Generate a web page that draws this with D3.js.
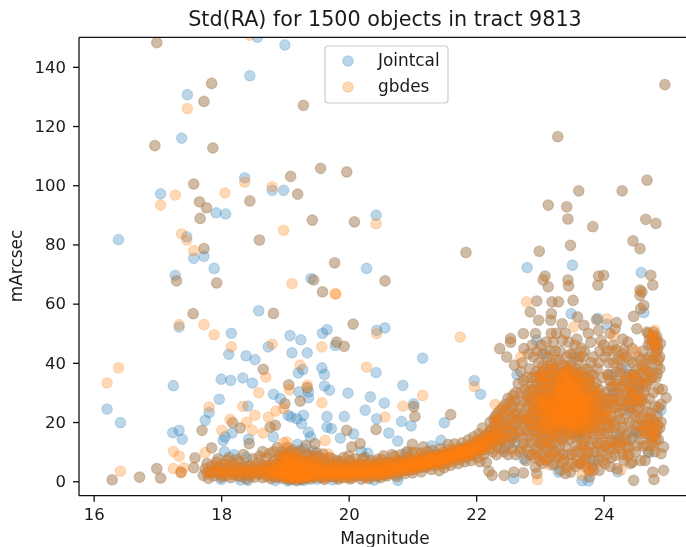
<!DOCTYPE html>
<html><head><meta charset="utf-8">
<script src="https://cdnjs.cloudflare.com/ajax/libs/d3/7.8.5/d3.min.js"></script>
<style>html,body{margin:0;padding:0;background:#fff;overflow:hidden}svg{display:block;filter:blur(0.5px)}text{font-family:"DejaVu Sans";fill:#1a1a1a}</style>
</head><body><svg id="c" width="686" height="547"></svg>
<script>
const chartTitle="Std(RA) for 1500 objects in tract 9813";
const xLabel="Magnitude", yLabel="mArcsec";
const seriesNames=["Jointcal","gbdes"];
const xTicks=[16,18,20,22,24], yTicks=[0,20,40,60,80,100,120,140];

const jointcalOnly=[[17.47,130.6],[18.45,137],[19,147.4],[18.57,150],[17.38,115.9],[17.05,97.1],[17.92,90.7],[18.07,90.3],[18.37,102.5],[18.8,98.3],[18.98,98.3],[20.43,89.9],[16.39,81.6],[17.46,82.6],[17.57,75.3],[17.73,76],[17.89,71.9],[17.28,69.6],[20.28,71.9],[19.41,68.5],[17.34,52.1],[18.16,50],[18.59,57.6],[19.08,49.2],[19.25,47.8],[19.59,50],[19.66,51.2],[18.74,45.4],[18.12,42.9],[18.39,42.4],[18.53,41.1],[19.11,43.4],[19.35,43.4],[19.79,45.9],[20.44,51],[17.25,32.3],[16.21,24.4],[16.42,19.8],[18,34.5],[18.15,34.1],[18.34,34.9],[18.49,33.2],[18.82,29.4],[18.93,27.9],[19.28,37.7],[19.21,36.6],[19.58,38.3],[19.62,36.1],[19.62,32.2],[19.7,30.8],[19.22,30.2],[19.37,30.2],[19.37,28.2],[19.99,29.8],[20.43,36.7],[20.34,28.5],[20.26,24],[19.66,21.9],[19.93,21.9],[20.44,21.1],[17.81,23.2],[17.75,20.6],[17.97,27.7],[18.42,25.4],[17.24,16.4],[17.34,17.2],[17.39,14.2],[18.17,16.3],[18.06,15],[18.03,13.8],[18.43,14.2],[18.82,15],[19.05,22.3],[19.1,21.7],[19.19,21.1],[19.29,22.3],[19.26,19.5],[19.37,16.6],[19.4,15],[19.66,18.3],[19.73,17.8],[19.87,14.6],[20.08,16],[19.2,12.5],[20.57,51.8],[21.16,41.6],[20.85,32.4],[20.56,26.4],[21.02,26.2],[20.83,20.2],[20.98,18.7],[21.5,19.8],[21.97,34],[22.07,29.4],[20.63,16.3],[20.77,13.6],[21.45,13.8],[22.8,72.2],[23.51,73],[24.59,70.5],[23.49,56.6],[23.91,55],[24.05,53],[22.95,47.6],[24.63,57],[20.77,0.3],[22.59,0.9],[23.29,3.1],[23.76,0.1],[23.66,0.2],[24.52,16.6],[24.71,9.6],[24.22,3.2],
[18,0.6],[18.3,0.4],[18.42,0.3],[18.85,0.3],[19.05,0.1],[19.2,0.2],[19.3,0.3],[19.5,0.7],[19.75,0.5],[20.4,0.4],[18.2,9],[18.05,10],[18.4,8],[19.3,11],[19.45,10],[20.2,10],[20.3,9.5],[22.6,13],[22.75,7.5],[23.6,16],[24,25],[24.15,30],[24.35,38],[24.55,32],[24.45,15],[24.9,24],[22.64,36],[23.08,43],[23.55,42],[24.13,36],[24.4,24],[24.24,15],[23.85,7],[23.2,5.5],[22.45,11],[21.3,12],[20.9,9.6]];

const gbdesOnly=[[17.47,125.9],[18.45,150.7],[17.05,93.3],[17.28,96.7],[18.06,97.4],[18.37,101.1],[18.8,99.5],[20.43,87],[18.98,84.8],[17.38,83.6],[17.46,81.5],[17.57,77.9],[19.11,66.8],[19.79,63.4],[19.8,63.2],[17.34,52.9],[17.73,52.9],[17.89,49.5],[18.8,46.3],[18.16,45.4],[19.58,45.4],[20.44,49.9],[16.39,38.3],[16.21,33.2],[18.7,35.2],[18.59,29.9],[19.24,39.2],[19.35,32.4],[19.07,30.9],[19.58,26.5],[20.28,38.6],[17.81,25.1],[18.34,25.3],[17.25,10.1],[17.34,8.5],[17.75,9.7],[18.01,17.2],[18.14,20.9],[18.4,20],[18.53,22.3],[18.49,17.2],[18.66,16.3],[18.74,21.7],[18.86,23.7],[18.98,24.5],[19.03,13.3],[18.98,13],[19.63,13.8],[19.68,9.3],[16.42,3.4],[17.25,4.3],[17.37,2.8],[17.41,4.6],[21.75,48.7],[21.16,29],[20.85,25.4],[20.57,21.7],[21.97,32],[22.79,60.6],[23.53,52.1],[24.05,54.9],[23.16,5.4],[22.96,0.5],[24.27,3.8],[24.08,23],[24.8,51],[22.3,26],[22.7,42],[24.16,49],[24.5,44],[23.66,2],[23.75,4]];

const brightSparse=[[16.99,148.2],[17.85,134.4],[16.96,113.4],[17.57,100.4],[18.45,94.7],[19.09,103],[19.56,105.7],[19.97,104.5],[19.29,127],[17.87,112.6],[17.73,128.3],[17.66,94.4],[17.77,92.4],[17.67,88.8],[19.2,97],[19.43,88.2],[20.09,87.6],[18.6,81.5],[17.73,78.6],[17.3,67.7],[17.93,67],[19.78,73.8],[19.45,68],[19.59,64],[17.56,56.6],[18.82,56.7],[20.07,53.1],[19.81,47],[19.93,45.6],[18.66,37.8],[19.35,31.6],[19.06,32.6],[19.24,27.1],[17.7,17.2],[17.59,7.9],[17.85,11.3],[18.18,19.8],[18.3,18],[18.44,12.7],[19,26.2],[18.77,18.3],[18.85,18.9],[19.97,17.2],[20.43,17.5],[19.47,12.7],[19.33,12.1],[20.18,12.7],[20.05,11.6],[16.29,0.5],[16.72,1.4],[16.99,4.3],[17.05,1.1],[17.37,3.1],[17.57,4.6],[20.57,67.7],[21.04,21.9],[21.6,22.5],[21.17,11.6],[21,12.5],[21.02,25.2]];

const faintSparse=[[24.96,134],[23.28,116.4],[24.68,101.7],[24.29,98.1],[23.61,98.1],[23.13,93.3],[23.42,92.7],[23.44,88.6],[23.83,86],[24.66,88.5],[24.82,87.1],[24.46,81.2],[24.57,78.6],[23.48,79.7],[22.99,77.7],[21.84,77.3],[23.08,69.3],[23.05,68],[23.44,68],[23.92,69.3],[24,69.6],[24.74,69.6],[24.77,66.3],[24.57,64.6],[23.13,65.7],[23.45,66],[23.91,66.3],[22.95,60.9],[22.85,57.2],[23.19,60.6],[23.29,60.6],[23.52,61.1],[23.18,56.6],[22.98,54.4],[23.17,54.4],[23.35,53.2],[23.59,55.5],[23.69,52.7],[23.89,54.6],[23.92,51],[24.2,53.6],[24.18,51.5],[24.47,55.7],[24.63,59.4],[24.58,58.3],[24.57,62.8],[24.6,64],[24.52,51.5],[24.68,50.4],[24.78,50.4],[24.84,47.6],[24.89,46.5],[24.84,44.2],[24.81,42.5],[24.76,41],[24.88,38],[24.84,36.3],[24.73,34.1],[24.65,31.9],[24.86,31.3],[24.98,28.2],[24.81,25.3],[24.68,23.4],[24.76,21.1],[24.84,17.2],[24.63,18.9],[24.94,11.6],[24.9,9.3],[24.94,3.7],[24.77,3.1],[24.79,0.6],[24.47,0.3],[24.58,7],[24.65,7],[24.37,8.8],[24.21,4.3],[24.18,8.8],[24.04,8.8],[24.03,12.1],[24.18,13.3],[24.39,11.6],[24.37,16.1],[23.93,3.7],[23.84,3.7],[23.78,1.5],[23.71,9.3],[23.62,10],[23.42,4.8],[23.48,3.1],[23.19,9.3],[22.93,4.8],[22.95,2.6],[22.74,2.8],[22.59,3.1],[22.44,2],[22.2,3.4],[22.25,2],[22.37,44.8],[22.54,48.2],[22.54,47],[22.74,49.9],[22.75,44.8],[22.48,42],[22.6,39.2],[22.93,49.9],[23.21,47],[23.35,47.6],[23.45,47],[23.55,46],[23.65,45],[23.8,47],[23.96,47.5],[24.15,46],[24.2,44.5],[24.05,44],[24.32,44.5],[24.45,44.8],[24.55,42],[24.4,41],[24.62,39],[24.7,37],[24.35,35],[24.45,36],[24.55,28],[24.25,37]];

const bandBright=[[17.72,2],[17.75,4.2],[17.78,6],[17.8,1],[17.82,3],[17.85,5.2],[17.88,1.8],[17.9,3.8],[17.93,6.5],[17.95,2.6],[17.98,4.6],[18,1.4],[18.03,5.8],[18.05,3.2],[18.08,2],[18.1,7],[18.12,4.4],[18.15,1.2],[18.18,3.4],[18.2,5.6],[18.22,2.4],[18.25,4],[18.28,6.6],[18.3,1.6],[18.33,3],[18.35,4.8],[18.38,2.2],[18.4,0.8],[18.42,3.8],[18.45,5.4],[18.48,2.6],[18.5,4.2],[18.53,1.4],[18.55,3.2],[18.58,6.2],[18.6,2.4],[18.62,4.6],[18.65,1.2],[18.68,3.4],[18.7,7.8],[18.72,5.2],
[18.74,2],[18.76,3.6],[18.78,0.9],[18.8,5],[18.82,2.6],[18.84,7],[18.86,4],[18.88,1.4],[18.9,3],[18.9,6],[18.92,8.6],[18.94,2],[18.94,4.6],[18.96,1],[18.96,3.4],[18.98,6.8],[19,2.4],[19,5.2],[19,9.2],[19.02,1.2],[19.02,3.8],[19.04,7.6],[19.06,2.8],[19.06,5.6],[19.08,0.8],[19.08,4.2],[19.08,10],[19.1,1.8],[19.1,3],[19.1,6.6],[19.12,8.6],[19.14,1],[19.14,4.6],[19.16,2.2],[19.16,6],[19.18,3.4],[19.18,9.6],[19.2,1.2],[19.2,5],[19.2,7.4],[19.22,2.6],[19.24,0.8],[19.24,4],[19.26,6.4],[19.26,8.8],[19.28,1.8],[19.28,3.2],[19.3,5.4],[19.32,2.4],[19.32,7],[19.34,1],[19.34,4.4],[19.36,3],[19.36,6],[19.38,1.6],[19.4,5],[19.4,8.4],[19.42,2.6],[19.44,4],[19.46,1.4],[19.46,6.4],[19.48,3],[19.5,5],[19.5,9.6],[19.52,2],[19.54,4],[19.54,7],[19.56,1.2],[19.58,3],[19.58,5.6],[19.6,2.2],[19.62,4.2],[19.62,7.6],[19.64,1.4],[19.66,3.2],[19.68,5.4],[19.7,2],[19.7,8],
[19.72,4],[19.74,1.6],[19.76,3],[19.78,5.6],[19.8,2.2],[19.82,4.2],[19.84,1.4],[19.86,3.2],[19.86,6.6],[19.88,2.4],[19.9,4.6],[19.92,1.2],[19.94,3.4],[19.96,5.4],[19.98,2],[20,4],[20.02,7],[20.04,2.6],[20.06,1.2],[20.08,4.6],[20.1,3],[20.12,5.8],[20.14,1.8],[20.16,3.8],[20.18,2.4],[20.2,5],[20.22,7.6],[20.24,3.2],[20.26,1.4],[20.28,4.4],[20.3,2.6],[20.32,5.8],[20.34,3.6],[20.36,1.8],[20.38,4.6],[20.4,2.8],[20.42,6.4],[20.44,3.6],[20.46,1.6],[20.48,5],[20.5,3],[20.52,7.4],[20.54,4.2],[20.56,2.2],[20.58,5.4],[20.6,3.4],[20.62,6.4],[20.64,4.4],[20.66,2.6],[20.68,5.6],[20.7,3.8],[20.72,8.4],[20.74,5],[20.76,1.6],[20.78,3.8],[20.8,6.2],[20.82,4.4],[20.84,7.4],[20.86,5.2],[20.88,3.6],[20.9,6.4],[20.92,4.6],[20.94,8],[20.96,5.6],[20.98,3.8],[21,7],[21,9.8],[21.02,5],[21.04,6.4],[21.06,4.4],[21.08,7.8],[21.1,5.8],[21.12,4.6],[21.14,7],[21.16,5.6],[21.18,8.4],[21.2,6.4],[21.22,4.8],[21.24,7.4],[21.26,5.8],[21.28,8.6],[21.3,6.8],[21.32,5.4],[21.34,8],[21.36,6.4],[21.38,9],[21.4,7.2],[21.42,5.6],[21.44,8.4],[21.46,7],[21.48,9.8],[21.5,7.8],[21.52,6],[21.54,8.8],[21.56,10.6],[21.58,7.6],[21.6,9.4],[21.62,8],[21.64,6.6],[21.66,10],[21.68,8.6],[21.7,11],[21.72,9.4],[21.74,7.4],[21.76,10.2],[21.78,8.8],[21.8,11.4],[21.82,9.6],[21.84,8],[21.86,10.8],[21.88,9.2],[21.9,12.2],[21.92,10.4],[21.94,8.6],[21.96,11.4],[21.98,13],[22,10.4],[22.02,8],[22.04,12],[22.06,14],[22.08,10.6],[22.1,12.8],[22.12,9],[22.14,15],[22.16,11.6],[22.18,13.8],[22.2,16.6],[22.22,11],[22.24,14.6],[22.26,12.6],[22.28,17.4],[22.3,15],[22.32,20.4],[22.34,12.4],[22.36,18],[22.38,15.6],[22.4,13.6],[22.42,20],[22.44,17],[22.46,23.6],[22.48,15],[22.5,19.4],[22.52,12.6],[22.54,17.2],[22.56,21.4],[22.58,25],[22.6,15.6],[22.62,19],[22.64,23],[22.66,17],[22.68,10],[22.7,21],[22.72,27],[22.74,14.6],[22.76,18.4],[22.78,24]];

const faintCluster=[[22.8,11],[22.8,17],[22.8,21],[22.8,29],[22.8,35],[22.82,15],[22.82,25],[22.84,19],[22.84,32],[22.84,38],[22.86,13],[22.86,23],[22.86,28],[22.88,9],[22.88,17],[22.88,21],[22.88,35],[22.9,26],[22.9,31],[22.9,42],[22.92,14],[22.92,19],[22.92,24],[22.94,11],[22.94,29],[22.94,37],[22.96,17],[22.96,22],[22.96,33],[22.98,26],[22.98,40],[23,13],[23,19],[23,24],[23,30],[23,36],[23.02,9],[23.02,16],[23.02,21],[23.02,27],[23.04,33],[23.04,39],[23.04,43],[23.06,18],[23.06,23],[23.06,29],[23.08,12],[23.08,25],[23.08,35],[23.1,7],[23.1,20],[23.1,31],[23.1,38],[23.12,16],[23.12,22],[23.12,27],[23.12,42],[23.14,13],[23.14,24],[23.14,33],[23.16,19],[23.16,29],[23.16,36],[23.18,10],[23.18,21],[23.18,26],[23.18,40],[23.2,16],[23.2,23],[23.2,31],[23.22,6],[23.22,19],[23.22,28],[23.22,35],[23.24,13],[23.24,25],[23.24,38],[23.24,44],[23.26,21],[23.26,30],[23.26,33],[23.28,17],[23.28,23],[23.28,27],[23.3,9],[23.3,20],[23.3,36],[23.3,41],[23.32,25],[23.32,29],[23.32,32],[23.34,14],[23.34,22],[23.34,27],[23.36,18],[23.36,24],[23.36,35],[23.36,39],[23.38,7],[23.38,20],[23.38,30],[23.38,33],[23.4,12],[23.4,26],[23.4,37],[23.42,17],[23.42,23],[23.42,28],[23.42,42],[23.44,21],[23.44,31],[23.44,35],[23.46,14],[23.46,25],[23.46,39],[23.48,19],[23.48,27],[23.48,33],[23.5,9],[23.5,23],[23.5,30],[23.5,36],[23.52,16],[23.52,26],[23.52,43],[23.54,20],[23.54,28],[23.54,33],[23.56,12],[23.56,24],[23.56,38],[23.58,18],[23.58,30],[23.58,35],[23.6,22],[23.6,27],[23.6,41],[23.62,15],[23.62,25],[23.62,33],[23.64,6],[23.64,20],[23.64,29],[23.64,37],[23.66,23],[23.66,31],[23.68,13],[23.68,26],[23.68,35],[23.68,42],[23.7,18],[23.7,22],[23.7,28],[23.72,8],[23.72,25],[23.72,33],[23.74,16],[23.74,30],[23.74,38],[23.76,21],[23.76,27],[23.78,12],[23.78,24],[23.78,34],[23.8,18],[23.8,29],[23.8,40],[23.82,5],[23.82,22],[23.82,31],[23.84,14],[23.84,26],[23.84,36],[23.86,20],[23.86,28],[23.88,10],[23.88,24],[23.88,33],[23.9,17],[23.9,30],[23.9,38],[23.92,22],[23.92,27],[23.94,13],[23.94,25],[23.94,44],[23.96,19],[23.96,29],[23.98,7],[23.98,23],[23.98,35]];

const faintEdge=[[24,16],[24,27],[24.02,21],[24.04,30],[24.06,24],[24.08,18],[24.08,36],[24.1,28],[24.12,14],[24.12,22],[24.14,32],[24.16,25],[24.16,40],[24.18,19],[24.2,29],[24.22,12],[24.22,34],[24.24,23],[24.26,27],[24.28,17],[24.28,38],[24.3,31],[24.32,21],[24.34,14],[24.34,26],[24.36,34],[24.38,28],[24.4,20],[24.4,32],[24.42,6],[24.42,25],[24.44,30],[24.46,17],[24.46,35],[24.48,27],[24.5,10],[24.5,22],[24.5,32],[24.52,29],[24.54,19],[24.56,25],[24.56,34],[24.58,14],[24.6,28],[24.6,38],[24.62,22],[24.64,17],[24.66,26],[24.68,12],[24.68,33],[24.7,19],[24.72,28],[24.74,15],[24.74,23],[24.76,18],[24.78,30],[24.78,12],[24.8,20],[24.82,16],[24.82,35],[24.84,22],[24.86,14],[24.88,18],[24.88,42],[24.9,26],[24.7,46],[24.76,48],[24.8,45],[24.72,42],[24.62,44],[24.3,48],[24.35,42],[24.1,50],[24.02,42]];

const bandExtra=[[17.85,2.9],[17.92,4.9],[17.97,3.3],[18.02,2.1],[18.06,4.4],[18.11,2.9],[18.14,5.5],[18.19,2.2],[18.23,3.6],[18.27,1.9],[18.31,4.5],[18.36,3.2],[18.41,5.2],[18.46,1.8],[18.51,3],[18.56,4.8],[18.6,3.7],[18.64,2.8],[18.67,5.3],[18.71,1.7],[18.73,3.9],[18.77,5.7],[18.79,2.7],[18.81,3.9],[18.83,1.5],[18.85,5.6],[18.87,2.9],[18.89,4.7],[18.91,1.8],[18.91,7.4],[18.93,3.6],[18.95,5.8],[18.95,2.6],[18.97,4.3],[18.97,8.2],[18.99,1.6],[18.99,3.1],[19.01,6.2],[19.01,4.5],[19.03,2.2],[19.03,8.8],[19.05,3.5],[19.05,1.4],[19.07,6.9],[19.07,4.9],[19.09,2.4],[19.09,8],[19.11,3.7],[19.11,5.6],[19.13,1.5],[19.13,7.2],[19.15,3],[19.15,5.2],[19.17,1.2],[19.17,4.1],[19.19,2.5],[19.19,6.5],[19.21,3.6],[19.21,8.2],[19.23,1.6],[19.23,5.6],[19.25,3],[19.25,7],[19.27,2.2],[19.27,4.6],[19.29,1.2],[19.29,6.1],[19.31,3.7],[19.31,2.2],[19.33,5.3],[19.35,1.8],[19.35,3.7],[19.37,2.4],[19.37,4.9],[19.39,3.3],[19.39,6.8],[19.41,1.6],[19.41,3.8],[19.43,5.7],[19.45,2.4],[19.47,4.3],[19.49,1.8],[19.49,6.1],[19.51,3.6],[19.53,2.6],[19.55,5.2],[19.57,3.9],[19.59,1.5],[19.61,3.3],[19.63,5.4],[19.65,2.4],[19.67,4.2],[19.69,1.6],[19.71,3.1],[19.73,5.6],[19.75,2.3],[19.77,4.3],[19.79,1.4],[19.81,3.3],[19.83,5.4],[19.85,2.6],[19.87,4.4],[19.89,1.7],[19.91,3.2],[19.93,5.6],[19.95,2.4],[19.97,4],[19.99,1.4],[20.01,3],[20.03,4.8],[20.05,3.6],[20.07,5.5],[20.09,2],[20.11,3.9],[20.13,2.7],[20.15,4.8],[20.17,3.2],[20.19,5.8],[20.21,2.1],[20.23,4],[20.25,5.3],[20.27,2.8],[20.29,3.7],[20.31,1.6],[20.33,4.7],[20.35,2.6],[20.37,3.4],[20.39,5.4],[20.41,4],[20.43,2.1],[20.45,5],[20.47,3.3],[20.49,4.2],[20.51,2.2],[20.53,5.4],[20.55,3.4],[20.57,6.2],[20.59,4.2],[20.61,2.6],[20.63,5.2],[20.65,3.6],[20.67,6.4],[20.69,4.6],[20.71,3],[20.73,5.8],[20.75,4.1],[20.77,6.8],[20.79,5],[20.81,3.4],[20.83,5.8],[20.85,4.4],[20.87,6.6],[20.89,5],[20.91,3.8],[20.93,6],[20.95,4.8],[20.97,7],[20.99,5.4],[21.01,4],[21.03,6],[21.05,5.2],[21.07,7],[21.09,5.4],[21.11,6.8],[21.13,5.4],[21.15,7.6],[21.17,6.4],[21.19,5],[21.21,7.2],[21.23,6],[21.25,8],[21.27,6.6],[21.29,5.8],[21.31,7.8],[21.33,6.8],[21.35,8.6],[21.37,7],[21.39,6],[21.41,8],[21.43,7],[21.45,9],[21.47,7.8],[21.49,6.6],[21.51,8.8],[21.53,7.6],[21.55,9.4],[21.57,8.4],[21.59,7.2],[21.61,9],[21.63,8.6],[21.65,10.4],[21.67,8.8],[21.69,9.6],[21.71,8.4],[21.73,10.4],[21.75,9],[21.77,11],[21.79,9.8],[21.81,8.8],[21.83,10.6],[21.85,9.4],[21.87,11.6],[21.89,10.2],[21.91,9],[21.93,11.4],[21.95,10],[21.97,12.4],[21.99,11],[22.01,12.8],[22.03,10.2],[22.05,13.6],[22.07,11.4],[22.09,14.6],[22.11,12],[22.13,10.6],[22.15,13.4],[22.17,15.6],[22.19,12.4],[22.21,14.8],[22.23,17.4],[22.25,13.4],[22.27,15.8],[22.29,19],[22.31,13.8],[22.33,16.6],[22.35,21],[22.37,14.4],[22.39,18.6],[22.41,16],[22.43,22],[22.45,14.4],[22.47,19],[22.49,24.4],[22.51,16.6],[22.53,21.4],[22.55,14.4],[22.57,18.6],[22.59,22.8],[22.61,27],[22.63,14.8],[22.65,20.6],[22.67,25],[22.69,17],[22.71,30],[22.73,22],[22.75,12.6],[22.77,20.4],[22.79,27.4]];

const clusterCore=[[22.83,21.4],[22.85,27.2],[22.87,31],[22.89,19.4],[22.91,23.6],[22.93,35],[22.93,16.6],[22.95,25.4],[22.97,30.4],[22.97,19.6],[22.99,14.4],[22.99,23],[22.99,36],[23.01,28],[23.01,18.2],[23.01,33.6],[23.03,22.6],[23.03,12.4],[23.03,26.2],[23.05,31],[23.05,20],[23.05,37],[23.07,15.4],[23.07,27],[23.07,24.2],[23.09,33],[23.09,18],[23.09,22],[23.11,29],[23.11,35.4],[23.11,14],[23.13,25.6],[23.13,20.6],[23.13,31.4],[23.13,39],[23.15,17.6],[23.15,23],[23.15,27.4],[23.17,33.4],[23.17,13],[23.17,24.4],[23.19,19],[23.19,29],[23.19,35.6],[23.21,21.6],[23.21,26],[23.21,15.4],[23.21,37.6],[23.23,31.8],[23.23,23.6],[23.23,17],[23.25,27.4],[23.25,19.6],[23.25,34.4],[23.25,41],[23.27,24],[23.27,29],[23.27,15],[23.29,21.8],[23.29,32],[23.29,26],[23.29,37],[23.31,18.6],[23.31,23],[23.31,34],[23.31,12],[23.33,28],[23.33,20.6],[23.33,24.4],[23.33,30.6],[23.35,16],[23.35,26.6],[23.35,33],[23.35,22],[23.37,28.4],[23.37,19.4],[23.37,36.4],[23.37,24.6],[23.39,31.6],[23.39,22],[23.39,27],[23.39,15],[23.41,34],[23.41,20],[23.41,29.6],[23.41,24],[23.43,18.4],[23.43,26],[23.43,32.4],[23.43,37.6],[23.45,22.4],[23.45,28.4],[23.45,16],[23.45,34],[23.47,24],[23.47,30],[23.47,20.4],[23.47,36],[23.49,26],[23.49,17.6],[23.49,22],[23.49,31],[23.51,28.4],[23.51,34],[23.51,20],[23.51,24.6],[23.53,18],[23.53,30],[23.53,23],[23.53,37],[23.55,26],[23.55,21.6],[23.55,31.6],[23.55,15],[23.57,28],[23.57,23.4],[23.57,33.4],[23.57,19],[23.59,25.4],[23.59,36],[23.59,21],[23.59,30],[23.61,18],[23.61,27.6],[23.61,23],[23.61,32],[23.63,24.6],[23.63,35],[23.63,16],[23.63,21],[23.65,28],[23.65,33.6],[23.65,19],[23.65,26],[23.67,23.4],[23.67,30],[23.67,17],[23.69,21],[23.69,25.6],[23.69,33],[23.69,38],[23.71,28.4],[23.71,19.4],[23.71,23.6],[23.73,31],[23.73,15],[23.73,27],[23.75,22],[23.75,35],[23.75,25],[23.75,18],[23.77,29],[23.77,23],[23.77,33],[23.79,20],[23.79,27],[23.81,25],[23.81,16],[23.81,36],[23.83,20],[23.83,29],[23.85,23],[23.85,32],[23.87,18],[23.87,26],[23.89,21],[23.89,29],[23.91,24],[23.93,19],[23.93,31],[23.95,22],[23.97,26],[23.99,21],
[23.2,24],[23.22,26],[23.24,22],[23.26,25],[23.28,29],[23.3,24],[23.3,30],[23.32,21],[23.34,31],[23.36,28],[23.38,24],[23.38,26],[23.4,22],[23.4,31],[23.42,25],[23.42,33],[23.44,27],[23.44,24],[23.46,29],[23.46,22],[23.48,31],[23.48,24],[23.5,26],[23.5,33],[23.52,29],[23.52,22],[23.54,25],[23.56,27],[23.56,31],[23.58,23],[23.6,29],[23.62,28],[23.64,24],[23.66,27],[23.68,22],[23.7,25],[23.72,23],[23.74,27],[23.3,32],[23.34,35],[23.38,36],[23.42,36],[23.46,33],[23.5,39],[23.4,39],[23.2,38],[23.1,26],[23.06,26],[23,27],[22.96,28],[23.02,35],[23.16,22],[23.12,18],[23.08,21],[23.24,19],[23.28,20],[23.36,21],[23.44,18],[23.52,20],[23.6,19],[23.68,20],[23.76,19]];

const armRight=[[24.03,24],[24.05,28],[24.07,21],[24.09,27],[24.11,32],[24.13,26],[24.15,20],[24.17,28],[24.19,33],[24.21,25],[24.23,30],[24.25,21],[24.27,32],[24.29,27],[24.31,24],[24.33,34],[24.37,30],[24.39,25],[24.41,36],[24.43,31],[24.45,28],[24.47,32],[24.49,36],[24.51,27],[24.53,34],[24.55,30],[24.57,36],[24.59,27],[24.61,33],[24.63,30],[24.65,35],[24.67,38],[24.69,41],[24.6,17],[24.65,19],[24.68,16],[24.7,21],[24.72,17],[24.75,15],[24.78,19],[24.8,16],[24.82,14],[24.85,19],[24.7,50],[24.72,48],[24.75,46],[24.78,49],[24.8,47],[24.83,49],[24.82,46],[24.85,45],[24.86,41],[24.84,39],[24.05,16],[24.1,13],[24.14,18],[24.2,16],[24.25,14],[24.3,18],[24.35,12],[24.4,9],[24.45,6.5],[24.3,9],[24.25,11],[24.12,8],[24.08,11],[23.95,16],[24,12],[23.97,10],[23.9,13],[23.85,10],[23.8,7],[23.75,10],[23.68,7],[23.72,5],[23.78,3.6],[23.65,12],[23.55,10],[23.58,7],[23.45,9],[23.35,6],[23.28,8],[23.32,3.8],[23.4,2.6],[23.12,11],[23.06,8],[23,7],[22.92,8]];

const spreadFaint=[[22.72,40],[22.82,43],[22.88,46],[22.96,44],[23.02,46],[23.1,47],[23.16,44],[23.18,50],[23.26,50],[23.32,44],[23.4,50],[23.48,43],[23.58,48],[23.62,42],[23.7,44],[23.76,50],[23.84,42],[23.92,40],[24,46],[24.08,40],[24.14,44],[24.22,41],[24.3,43],[24.38,47],[24.45,40],[24.52,38],[24.58,41],[22.66,33],[22.7,37],[22.74,34],[22.78,31],[22.62,30],[22.58,29],[22.54,27],[22.5,28],[22.46,26],[22.42,25],[22.38,24],[22.34,23],[22.3,22],[22.28,21],[22.22,20],[22.56,11],[22.5,9],[22.44,10],[22.38,11],[22.32,9],[22.26,10],[22.62,9],[22.7,11],[22.78,7],[22.84,9],[22.96,10],[23.04,6],[23.14,8],[23.24,10],[23.36,9],[23.5,6],[23.56,5],[23.62,6],[23.7,12],[23.92,7],[24.02,6],[24.1,5],[24.16,11],[24.28,13],[24.32,7],[24.42,14],[24.48,19],[24.56,16],[24.52,12],[24.62,12],[24.7,10],[24.76,13],[24.8,10],[24.86,25],[24.9,20],[24.92,31],[24.72,37],[24.76,35],[24.06,36],[24.1,34],[24.2,37],[24.26,41],[24.4,28],[24.46,23],[24.52,24],[24.58,21],[24.05,19],
[17.78,3],[17.95,7.6],[18.12,8],[18.25,7.4],[18.35,9],[18.5,7.6],[18.6,8.4],[18.65,10],[18.76,9.4],[18.82,10],[18.88,11.4],[18.95,10],[19.04,11.4],[19.12,10.6],[19.24,10.4],[19.36,9.2],[19.44,8.6],[19.52,8.4],[19.6,9.2],[19.74,7.6],[19.82,7],[19.92,8],[20,8.6],[20.1,7.6],[20.25,8],[20.35,7],[20.45,7.4],[20.55,8.6],[20.68,9],[20.82,9],[20.92,10],[21.06,9.6],[21.14,9.6],[21.24,10],[21.32,10.4],[21.42,3.6],[21.3,4],[21.14,3.2],[21,2.8],[20.88,2.6],[20.75,2.4],[20.6,1.8],[20.5,1.2],[21.5,4.6],[21.6,5.4],[21.72,6],[21.82,6.6],[21.92,7],[21.44,11],[21.56,12.4],[21.66,12.6],[21.78,13],[21.88,14],[21.96,15],[22.04,16],[22.1,18],[22.16,6.4],[22.06,6.6],[19.06,0.6],[19.16,0.4],[19.26,0.6],[19.4,0.8],[19.62,0.6],[19.84,0.7],[20.02,0.8],[20.2,0.7],[20.32,0.9]];

const shared=[...brightSparse,...faintSparse,...bandBright,...faintCluster,...faintEdge,...bandExtra,...clusterCore,...armRight,...spreadFaint];
const jointcal=[...shared,...jointcalOnly], gbdes=[...shared,...gbdesOnly];

const svg=d3.select("#c");
const plotL=79,plotR=691,plotT=37.3,plotB=495.7;
const x=d3.scaleLinear().domain([15.77,25.37]).range([plotL,plotR]);
const y=d3.scaleLinear().domain([-4.88,149.98]).range([plotB,plotT]);

svg.append("defs").append("clipPath").attr("id","plot").append("rect").attr("x",plotL).attr("y",plotT).attr("width",plotR-plotL).attr("height",plotB-plotT);
const colors=["#1f77b4","#ff7f0e"];
[jointcal,gbdes].forEach((d,i)=>{
  svg.append("g").attr("clip-path","url(#plot)").selectAll("circle").data(d).join("circle")
    .attr("cx",p=>x(p[0])).attr("cy",p=>y(p[1])).attr("r",5.3)
    .attr("fill",colors[i]).attr("fill-opacity",0.3)
    .attr("stroke",colors[i]).attr("stroke-opacity",0.22).attr("stroke-width",1.1);
});
const ax=svg.append("g").attr("transform",`translate(0,${plotB})`).call(d3.axisBottom(x).tickValues(xTicks).tickSize(6).tickPadding(7).tickFormat(d3.format("d")));
const ay=svg.append("g").attr("transform",`translate(${plotL},0)`).call(d3.axisLeft(y).tickValues(yTicks).tickSize(6).tickPadding(7).tickFormat(d3.format("d")));
[ax,ay].forEach(a=>{a.selectAll("text").style("font-size","16.5px").attr("fill","#1a1a1a").style("font-family","DejaVu Sans");a.selectAll("line,path").attr("stroke","#111").attr("stroke-width",1.3);});
ax.select(".domain").attr("d",`M${plotL},0H${plotR}`);
ay.select(".domain").attr("d",`M0,${plotB}V${plotT}`);
svg.append("path").attr("d",`M${plotL},${plotT}H${plotR}`).attr("stroke","#111").attr("stroke-width",1.3).attr("fill","none");
svg.append("text").attr("x",385).attr("y",26).attr("text-anchor","middle").style("font-size","20.7px").text(chartTitle);
svg.append("text").attr("x",385).attr("y",544).attr("text-anchor","middle").style("font-size","16.9px").text(xLabel);
svg.append("text").attr("transform","translate(22,266) rotate(-90)").attr("text-anchor","middle").style("font-size","16.9px").text(yLabel);
const lg=svg.append("g");
lg.append("rect").attr("x",325).attr("y",46).attr("width",123).attr("height",57).attr("rx",3).attr("fill","#fff").attr("fill-opacity",0.8).attr("stroke","#ccc").attr("stroke-width",1.2);
seriesNames.forEach((n,i)=>{
  const ly=61+i*26;
  lg.append("circle").attr("cx",348).attr("cy",ly).attr("r",5.3).attr("fill",colors[i]).attr("fill-opacity",0.3).attr("stroke",colors[i]).attr("stroke-opacity",0.22).attr("stroke-width",1.1);
  lg.append("text").attr("x",378).attr("y",ly+5).style("font-size","16.9px").text(n);
});
</script></body></html>
